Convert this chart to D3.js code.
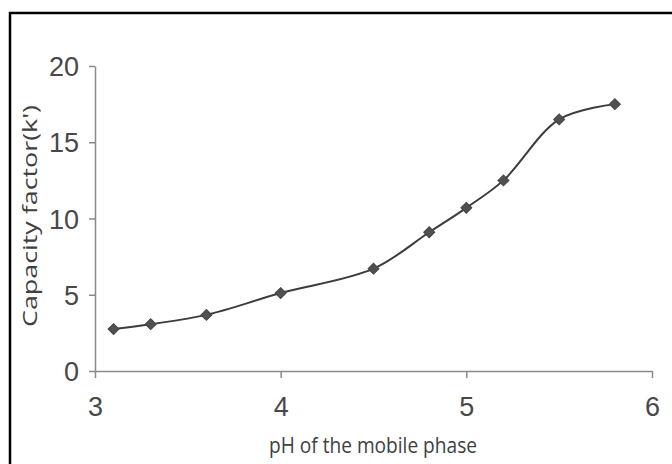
<!DOCTYPE html>
<html>
<head>
<meta charset="utf-8">
<script src="https://cdn.jsdelivr.net/npm/d3@7"></script>
<style>
    html, body { margin: 0; padding: 0; background: #fff; }
    svg { display: block; }
</style>
</head>
<body>
<svg id="chart"></svg>
<script>
// data
const phValues = [3.1, 3.3, 3.6, 4.0, 4.5, 4.8, 5.0, 5.2, 5.5, 5.8];
const capacityFactor = [2.75, 3.07, 3.68, 5.11, 6.71, 9.1, 10.7, 12.5, 16.5, 17.5];
const xTicks = [3, 4, 5, 6];
const yTicks = [0, 5, 10, 15, 20];

const width = 672, height = 464;
const svg = d3.select('#chart').attr('width', width).attr('height', height);

// frame round the picture (open on the right and bottom)
svg.append('rect')
    .attr('x', 10).attr('y', 13)
    .attr('width', 700).attr('height', 500)
    .attr('fill', 'none')
    .attr('stroke', '#000')
    .attr('stroke-width', 2.5);

const x = d3.scaleLinear().domain([3, 6]).range([95, 652]);
const y = d3.scaleLinear().domain([0, 20]).range([371, 66]);

const axisColor = '#8a8a8a';
const tickFont = "'Liberation Sans Narrow', 'Arial Narrow', 'Liberation Sans', Arial, sans-serif";

// x axis
const gx = svg.append('g').attr('transform', `translate(0,${y(0)})`)
    .call(d3.axisBottom(x).tickValues(xTicks).tickFormat(d3.format('d'))
        .tickSize(7).tickSizeOuter(0).tickPadding(16));
// y axis
const gy = svg.append('g').attr('transform', `translate(${x(3)},0)`)
    .call(d3.axisLeft(y).tickValues(yTicks).tickFormat(d3.format('d'))
        .tickSize(6).tickSizeOuter(0).tickPadding(10));

[gx, gy].forEach(g => {
    g.select('.domain').attr('stroke', axisColor).attr('stroke-width', 1.5);
    g.selectAll('.tick line').attr('stroke', axisColor).attr('stroke-width', 1.5);
    g.selectAll('.tick text')
        .attr('fill', '#484848')
        .style('font-family', tickFont)
        .style('font-size', '27px');
});
gx.selectAll('.tick text').attr('dy', '0.8em');
gy.selectAll('.tick text').attr('dy', '0.36em');

// smoothed line
const line = d3.line()
    .x((d, i) => x(phValues[i]))
    .y(d => y(d))
    .curve(d3.curveCatmullRom.alpha(0.5));

svg.append('path')
    .datum(capacityFactor)
    .attr('d', line)
    .attr('fill', 'none')
    .attr('stroke', '#3c3c3c')
    .attr('stroke-width', 2);

// diamond markers
svg.selectAll('path.marker')
    .data(capacityFactor)
    .enter()
    .append('path')
    .attr('class', 'marker')
    .attr('d', d3.symbol().type(d3.symbolSquare).size(60))
    .attr('transform', (d, i) => `translate(${x(phValues[i])},${y(d)}) rotate(45)`)
    .attr('fill', '#505050')
    .attr('stroke', '#444')
    .attr('stroke-width', 1);

// axis titles
const titleFont = "'Open Sans', 'Noto Sans', sans-serif";
svg.append('text')
    .attr('x', 373).attr('y', 453)
    .attr('text-anchor', 'middle')
    .attr('textLength', 208)
    .attr('lengthAdjust', 'spacingAndGlyphs')
    .style('font-family', titleFont)
    .style('font-size', '21px')
    .attr('fill', '#404040')
    .text('pH of the mobile phase');

svg.append('text')
    .attr('transform', 'translate(37,216) rotate(-90)')
    .attr('text-anchor', 'middle')
    .attr('textLength', 222)
    .attr('lengthAdjust', 'spacingAndGlyphs')
    .style('font-family', titleFont)
    .style('font-size', '20px')
    .attr('fill', '#404040')
    .text("Capacity factor(k')");
</script>
</body>
</html>
